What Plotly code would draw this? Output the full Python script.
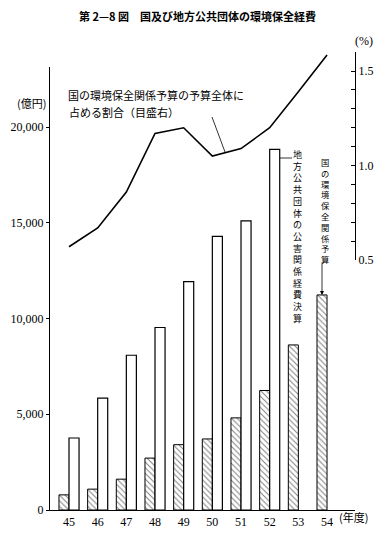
import plotly.graph_objects as go

years = [45, 46, 47, 48, 49, 50, 51, 52, 53, 54]
year_labels = ["45", "46", "47", "48", "49", "50", "51", "52", "53", "54"]
national_budget = [790, 1090, 1610, 2710, 3410, 3710, 4810, 6240, 8620, 11230]
local_expense = [3760, 5840, 8080, 9530, 11930, 14290, 15100, 18830, None, None]
ratio_pct = [0.57, 0.67, 0.86, 1.17, 1.20, 1.05, 1.09, 1.20, 1.39, 1.585]

left_ticks = [0, 5000, 10000, 15000, 20000]
left_tick_text = ["0", "5,000", "10,000", "15,000", "20,000"]
right_ticks = [0.5, 1.0, 1.5]
right_tick_text = ["0.5", "1.0", "1.5"]

# page has an 8px body margin; compensate so that page coordinates match the reference
OFF = 8
W, H = 392 - OFF, 534 - OFF
L, R, T, B = 50 - OFF, 37, 52 - OFF, 24
PW, PH = W - L - R, H - T - B

def px(x):
    return (x - OFF - L) / PW

def py(y):
    return (H - B - (y - OFF)) / PH

SERIF = "Liberation Serif"
JP = "Noto Sans CJK JP"

fig = go.Figure()
fig.add_trace(go.Bar(
    x=years, y=national_budget, width=0.35, offset=-0.35,
    marker=dict(color="white", line=dict(color="black", width=1),
                pattern=dict(shape="\\", size=4, solidity=0.25, fgcolor="black", bgcolor="white")),
    showlegend=False, xaxis="x", yaxis="y",
))
fig.add_trace(go.Bar(
    x=years, y=local_expense, width=0.35, offset=0,
    marker=dict(color="white", line=dict(color="black", width=1.2)),
    showlegend=False, xaxis="x", yaxis="y",
))
fig.add_trace(go.Scatter(
    x=years, y=ratio_pct, mode="lines", line=dict(color="black", width=1.6),
    showlegend=False, xaxis="x", yaxis="y2",
))

fig.update_layout(
    width=W, height=H, autosize=False,
    margin=dict(l=L, r=R, t=T, b=B, autoexpand=False),
    paper_bgcolor="white", plot_bgcolor="rgba(0,0,0,0)",
    barmode="overlay",
    font=dict(family=SERIF, size=12, color="black"),
    xaxis=dict(range=[44.337, 54.976], tickvals=years, ticktext=year_labels,
               showline=True, linecolor="black", linewidth=1.2, ticks="",
               showgrid=False, zeroline=False, anchor="y", automargin=False,
               tickfont=dict(family=SERIF, size=12)),
    yaxis=dict(domain=[0, py(67)], range=[0, (510 - 67) / 383 * 20000],
               tickvals=left_ticks, ticktext=left_tick_text,
               showline=True, linecolor="black", linewidth=1.2,
               ticks="outside", ticklen=3, tickcolor="black",
               showgrid=False, zeroline=False, anchor="x", automargin=False,
               tickfont=dict(family=SERIF, size=12)),
    yaxis2=dict(domain=[py(260), 1.0], range=[0.5, 1.601], side="right", anchor="x",
                tickvals=right_ticks, ticktext=right_tick_text,
                showline=True, linecolor="black", linewidth=1.2,
                ticks="inside", ticklen=4, tickcolor="black",
                minor=dict(dtick=0.1, tick0=0.5, ticks="inside", ticklen=4, tickcolor="black"),
                showgrid=False, zeroline=False, automargin=False,
                tickfont=dict(family=SERIF, size=12)),
)

ann = []
ann.append(dict(text="<b>第 2—8 図　国及び地方公共団体の環境保全経費</b>", x=px(197), y=py(16),
                xref="paper", yref="paper", showarrow=False, xanchor="center", yanchor="middle",
                font=dict(family=JP, size=11, color="black")))
ann.append(dict(text="(億円)", x=px(31), y=py(103), xref="paper", yref="paper",
                showarrow=False, xanchor="center", yanchor="middle",
                font=dict(family=JP, size=11)))
ann.append(dict(text="(%)", x=px(364), y=py(41), xref="paper", yref="paper",
                showarrow=False, xanchor="center", yanchor="middle",
                font=dict(family=SERIF, size=12)))
ann.append(dict(text="(年度)", x=px(337), y=py(517), xref="paper", yref="paper",
                showarrow=False, xanchor="left", yanchor="middle",
                font=dict(family=JP, size=11)))
ann.append(dict(text="国の環境保全関係予算の予算全体に", x=px(66), y=py(95), xref="paper", yref="paper",
                showarrow=False, xanchor="left", yanchor="middle",
                font=dict(family=JP, size=11)))
ann.append(dict(text="占める割合（目盛右）", x=px(67), y=py(112), xref="paper", yref="paper",
                showarrow=False, xanchor="left", yanchor="middle",
                font=dict(family=JP, size=11)))
local_label = "地方公共団体の公害関係経費決算"
ann.append(dict(text="<br>".join(local_label), x=px(297), y=py(146), xref="paper", yref="paper",
                showarrow=False, xanchor="center", yanchor="top",
                font=dict(family=JP, size=9)))
nat_label = "国の環境保全関係予算"
ann.append(dict(text="<br>".join(nat_label), x=px(325), y=py(154), xref="paper", yref="paper",
                showarrow=False, xanchor="center", yanchor="top",
                font=dict(family=JP, size=8.3)))
ann.append(dict(text="", x=years[-1] - 0.175, y=national_budget[-1], xref="x", yref="y",
                ax=0, ay=-33, axref="pixel", ayref="pixel", showarrow=True,
                arrowhead=2, arrowsize=1, arrowwidth=0.8, arrowcolor="black"))
fig.update_layout(annotations=ann)

fig.add_shape(type="line", xref="paper", yref="paper", x0=px(212), y0=py(117), x1=px(225), y1=py(152),
              line=dict(color="black", width=0.8))
fig.add_shape(type="line", xref="paper", yref="paper", x0=px(280), y0=py(158), x1=px(292), y1=py(158),
              line=dict(color="black", width=0.8))

fig.write_html("out.html")
